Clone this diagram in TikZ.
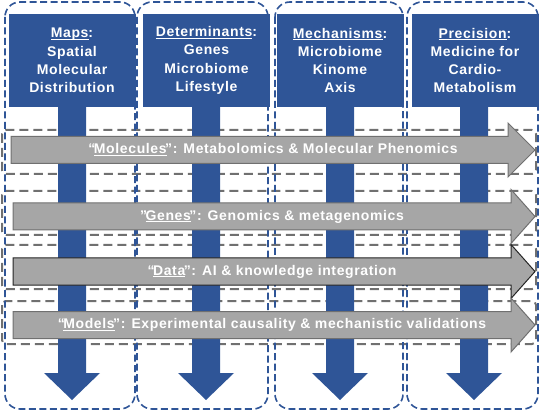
\documentclass[tikz,border=0pt]{standalone}
\usepackage{fontspec}
\setmainfont{Liberation Sans}[LetterSpace=4.5]
\definecolor{cblue}{RGB}{47,85,151}
\definecolor{agray}{RGB}{166,166,166}
\definecolor{lgray}{RGB}{112,112,112}
\newcommand\ulx[1]{\setbox0\hbox{#1}\rlap{\rule[-2.2pt]{\wd0}{1pt}}\box0}
\begin{document}
\begin{tikzpicture}[x=1pt,y=-1pt,
  colout/.style={draw=cblue, line width=1.6pt, dash pattern=on 7pt off 3.5pt, rounded corners=15pt},
  rowout/.style={draw=lgray, line width=2pt, dash pattern=on 9pt off 5pt, rounded corners=4pt},
  hdr/.style={fill=cblue, text=white, font=\bfseries\fontsize{14}{18.3}\selectfont, align=center, minimum width=127pt, minimum height=93pt, inner sep=0pt},
  stemfill/.style={fill=cblue},
  garrow/.style={fill=agray, draw=lgray, line width=1pt},
  gtext/.style={text=white, font=\bfseries\fontsize{14}{16}\selectfont, inner sep=0pt}]
\useasboundingbox (0,0) rectangle (540,411);
% dashed gray row frames
\draw[rowout] (2,130) rectangle (536,174);
\draw[rowout] (2,191) rectangle (536,235);
\draw[rowout] (2,245) rectangle (536,289);
\draw[rowout] (2,301) rectangle (536,344);
% dashed blue column frames
\draw[colout] (5,2) rectangle (135,409);
\draw[colout] (137,2) rectangle (268,409);
\draw[colout] (275,2) rectangle (403,409);
\draw[colout] (407,2) rectangle (538,409);
% blue stems with heads
\foreach \cx in {72,206,340,474}{
  \fill[stemfill] (\cx-14,100) -- (\cx+14,100) -- (\cx+14,373) -- (\cx+28,373)
     -- (\cx,400) -- (\cx-28,373) -- (\cx-14,373) -- cycle;
}
% headers
\node[hdr] (h1) at (72,60.5) {\ulx{Maps}:\\Spatial\\Molecular\\Distribution};
\node[hdr] (h2) at (206.5,60.5) {\ulx{Determinants}:\\Genes\\Microbiome\\Lifestyle};
\node[hdr] (h3) at (340,60.5) {\ulx{Mechanisms}:\\Microbiome\\Kinome\\Axis};
\node[hdr] (h4) at (475,60.5) {\ulx{Precision}:\\Medicine for\\Cardio-\\Metabolism};
% gray arrows
\draw[garrow] (11,136.5) -- (508,136.5) -- (508,123) -- (535,150) -- (508,177) -- (508,163.5) -- (11,163.5) -- cycle;
\draw[garrow] (13,203) -- (511,203) -- (511,189.5) -- (535,216.5) -- (511,243.5) -- (511,230) -- (13,230) -- cycle;
\draw[garrow, draw=black!85] (13,258) -- (511,258) -- (511,244.5) -- (535,271.5) -- (511,298.5) -- (511,285) -- (13,285) -- cycle;
\draw[garrow] (13,311.5) -- (511,311.5) -- (511,298) -- (535,325) -- (511,352) -- (511,338.5) -- (13,338.5) -- cycle;
% arrow texts
\node[gtext] (t1) at (273,150) {“\kern-1.5pt\ulx{Molecules}\kern-1.5pt”: Metabolomics \& Molecular Phenomics};
\node[gtext] (t2) at (272,216.5) {”\kern-1.5pt\ulx{Genes}\kern-1.5pt”: Genomics \& metagenomics};
\node[gtext] (t3) at (272,271.5) {“\kern-1.5pt\ulx{Data}\kern-1.5pt”: AI \& knowledge integration};
\node[gtext] (t4) at (272,325) {“\kern-1.5pt\ulx{Models}\kern-1.5pt”: Experimental causality \& mechanistic validations};
\end{tikzpicture}
\end{document}
